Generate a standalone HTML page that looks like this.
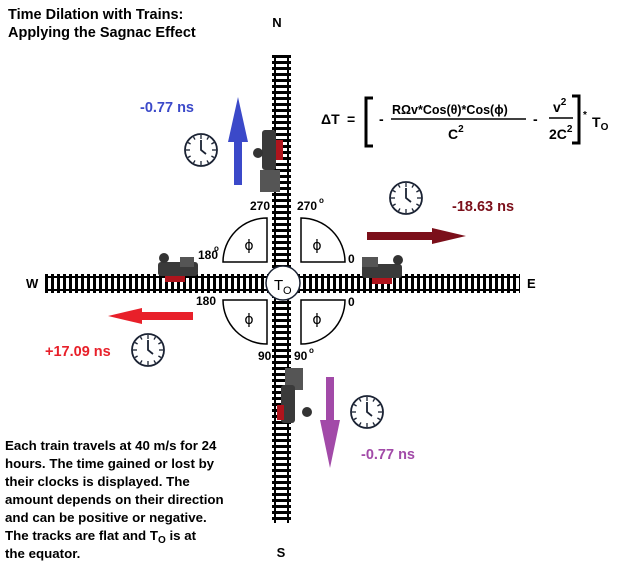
<!DOCTYPE html>
<html><head><meta charset="utf-8"><style>
body{margin:0;background:#fff;width:637px;height:582px;overflow:hidden}
svg{display:block;font-family:"Liberation Sans",Arial,sans-serif;font-weight:bold}
</style></head><body>
<svg width="637" height="582" viewBox="0 0 637 582">
<defs>
<pattern id="vt" x="0" y="55" width="30" height="6" patternUnits="userSpaceOnUse"><rect x="0" y="0" width="30" height="3" fill="#000"/></pattern>
<pattern id="ht" x="45" y="0" width="6" height="30" patternUnits="userSpaceOnUse"><rect x="0" y="0" width="3" height="30" fill="#000"/></pattern>
<g id="clk"><circle r="16" fill="#fff" stroke="#1a2233" stroke-width="1.8"/>
<g stroke="#1a2233" stroke-width="1.3"><line x1="0" y1="-15" x2="0" y2="-11"/><line x1="0" y1="15" x2="0" y2="11"/><line x1="-15" y1="0" x2="-11" y2="0"/><line x1="15" y1="0" x2="11" y2="0"/>
<line x1="7.5" y1="-13" x2="6" y2="-10.4"/><line x1="13" y1="-7.5" x2="10.4" y2="-6"/><line x1="13" y1="7.5" x2="10.4" y2="6"/><line x1="7.5" y1="13" x2="6" y2="10.4"/><line x1="-7.5" y1="13" x2="-6" y2="10.4"/><line x1="-13" y1="7.5" x2="-10.4" y2="6"/><line x1="-13" y1="-7.5" x2="-10.4" y2="-6"/><line x1="-7.5" y1="-13" x2="-6" y2="-10.4"/>
<polyline points="0,-10 0,0 5,4" fill="none" stroke-width="1.8"/></g></g>
</defs>
<text x="8" y="19" font-size="14.5">Time Dilation with Trains:</text>
<text x="8" y="37" font-size="14.5">Applying the Sagnac Effect</text>
<text x="277" y="27" font-size="13" text-anchor="middle">N</text>
<text x="281" y="557" font-size="13" text-anchor="middle">S</text>
<text x="26" y="288" font-size="13">W</text>
<text x="527" y="288" font-size="13">E</text>
<rect x="272" y="55" width="19" height="468" fill="url(#vt)"/>
<rect x="274" y="55" width="2" height="468" fill="#000"/><rect x="287" y="55" width="2" height="468" fill="#000"/>
<rect x="45" y="274" width="475" height="19" fill="url(#ht)"/>
<rect x="45" y="276" width="475" height="2" fill="#000"/><rect x="45" y="289" width="475" height="2" fill="#000"/>
<g fill="#fff" stroke="#000" stroke-width="1.5">
<path d="M267,218 L267,262 L223,262 A44,44 0 0 1 267,218 Z"/>
<path d="M301,218 L301,262 L345,262 A44,44 0 0 0 301,218 Z"/>
<path d="M267,344 L267,300 L223,300 A44,44 0 0 0 267,344 Z"/>
<path d="M301,344 L301,300 L345,300 A44,44 0 0 1 301,344 Z"/>
</g>
<g font-size="14" font-weight="normal" font-family="DejaVu Sans,sans-serif" text-anchor="middle">
<text x="249" y="250">ϕ</text><text x="317" y="250">ϕ</text><text x="249" y="324">ϕ</text><text x="317" y="324">ϕ</text></g>
<g font-size="12">
<text x="250" y="210">270</text><text x="297" y="210">270</text><text x="319" y="203" font-size="8">o</text>
<text x="198" y="259">180</text><text x="214" y="251" font-size="8">o</text>
<text x="348" y="263">0</text><text x="348" y="306">0</text>
<text x="196" y="305">180</text>
<text x="258" y="360">90</text><text x="294" y="360">90</text><text x="309" y="353" font-size="8">o</text>
</g>
<circle cx="283" cy="283" r="17" fill="#fff" stroke="#1a2233" stroke-width="1.5"/>
<text x="274" y="290" font-size="15" font-weight="normal">T</text><text x="283" y="294" font-size="11" font-weight="normal">O</text>
<polygon points="238,97 248,142 242,142 242,185 234,185 234,142 228,142" fill="#3b49c9"/>
<polygon points="367,232 432,232 432,228 466,236 432,244 432,240 367,240" fill="#7b0f1a"/>
<polygon points="193,312 142,312 142,308 108,316 142,324 142,320 193,320" fill="#e8202a"/>
<polygon points="326,377 334,377 334,420 340,420 330,468 320,420 326,420" fill="#a24aa8"/>
<text x="140" y="112" font-size="14.5" fill="#3b49c9">-0.77 ns</text>
<text x="452" y="211" font-size="14.5" fill="#7b0f1a">-18.63 ns</text>
<text x="45" y="356" font-size="14.5" fill="#e8202a">+17.09 ns</text>
<text x="361" y="459" font-size="14.5" fill="#a24aa8">-0.77 ns</text>
<use href="#clk" x="201" y="150"/><use href="#clk" x="406" y="198"/><use href="#clk" x="148" y="350"/><use href="#clk" x="367" y="412"/>
<g><rect x="262" y="130" width="14" height="40" rx="3" fill="#3a3a3a"/><rect x="276" y="140" width="7" height="20" fill="#b0141c"/><rect x="260" y="170" width="20" height="22" fill="#555"/><circle cx="258" cy="153" r="5" fill="#333"/></g>
<g><rect x="158" y="262" width="40" height="14" rx="3" fill="#3a3a3a"/><rect x="165" y="276" width="20" height="6" fill="#b0141c"/><rect x="180" y="257" width="14" height="10" fill="#555"/><circle cx="164" cy="258" r="5" fill="#333"/></g>
<g><rect x="362" y="264" width="40" height="14" rx="3" fill="#3a3a3a"/><rect x="372" y="278" width="20" height="6" fill="#b0141c"/><rect x="362" y="257" width="16" height="10" fill="#555"/><circle cx="398" cy="260" r="5" fill="#333"/></g>
<g><rect x="285" y="368" width="18" height="22" fill="#555"/><rect x="281" y="385" width="14" height="38" rx="3" fill="#3a3a3a"/><rect x="277" y="405" width="7" height="15" fill="#b0141c"/><circle cx="307" cy="412" r="5" fill="#333"/></g>
<g font-size="14">
<text x="321" y="124">ΔT</text><text x="347" y="124">=</text>
<path d="M373,98 L366,98 L366,146 L373,146 M572,96 L579,96 L579,143 L572,143" fill="none" stroke="#000" stroke-width="3"/>
<text x="379" y="124">-</text>
<text x="392" y="114" font-size="12.5">RΩv*Cos(θ)*Cos(ϕ)</text>
<line x1="391" y1="119" x2="526" y2="119" stroke="#000" stroke-width="1.5"/>
<text x="448" y="139" font-size="14">C<tspan font-size="10" dy="-7">2</tspan></text>
<text x="533" y="124">-</text>
<text x="553" y="112" font-size="14">v<tspan font-size="10" dy="-7">2</tspan></text>
<line x1="549" y1="118" x2="573" y2="118" stroke="#000" stroke-width="1.5"/>
<text x="549" y="139" font-size="14">2C<tspan font-size="10" dy="-7">2</tspan></text>
<text x="583" y="118" font-size="10">*</text><text x="592" y="127" font-size="14">T<tspan font-size="10" dy="3">O</tspan></text>
</g>
<g font-size="13.3">
<text x="5" y="450">Each train travels at 40 m/s for 24</text>
<text x="5" y="468">hours. The time gained or lost by</text>
<text x="5" y="486">their clocks is displayed. The</text>
<text x="5" y="504">amount depends on their direction</text>
<text x="5" y="522">and can be positive or negative.</text>
<text x="5" y="540">The tracks are flat and T<tspan font-size="10" dy="3">O</tspan><tspan dy="-3"> is at</tspan></text>
<text x="5" y="558">the equator.</text>
</g>
</svg>
</body></html>
